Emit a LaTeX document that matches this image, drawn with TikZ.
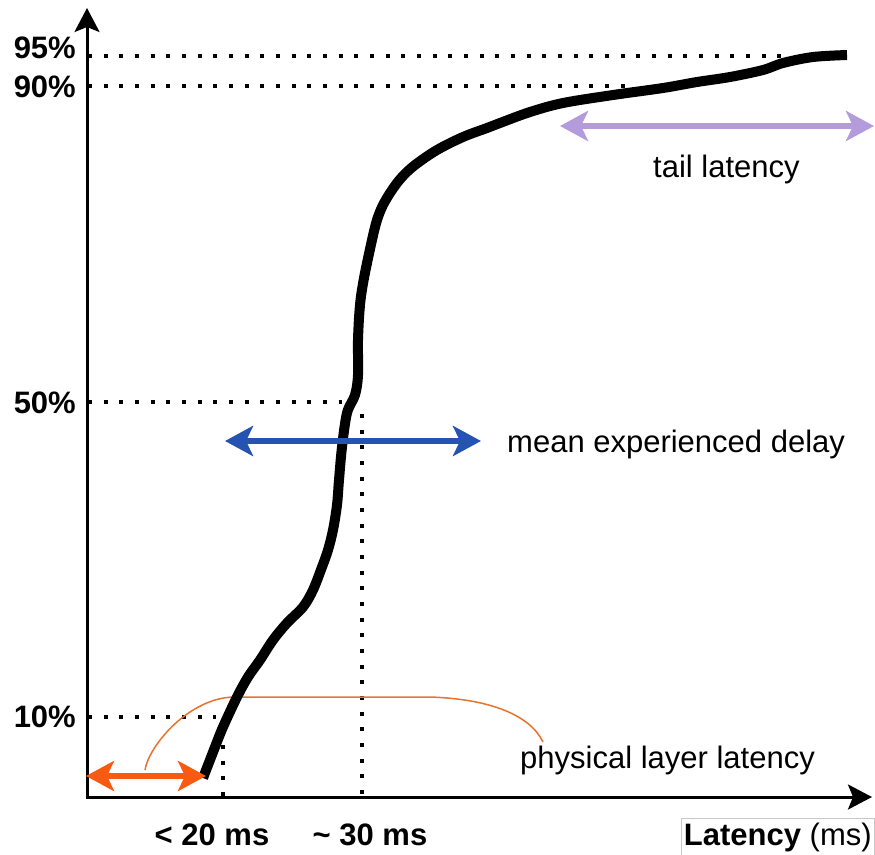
\documentclass[tikz,border=0pt]{standalone}
\usepackage{fontspec}
\setmainfont{Liberation Sans}
\usetikzlibrary{arrows.meta}
\definecolor{orangeA}{HTML}{F85A12}
\definecolor{orangeL}{HTML}{E8722E}
\definecolor{blueA}{HTML}{2453B2}
\definecolor{purpleA}{HTML}{B49BDC}
\tikzset{
  axisline/.style={line width=3pt, {Stealth[length=24pt,width=25pt,inset=5pt]}-{Stealth[length=24pt,width=25pt,inset=5pt]}, line join=miter},
  dotline/.style={line width=4pt, dash pattern=on 4pt off 11.67pt},
  dblarrow/.style={line width=5.5pt, {Stealth[length=28pt,width=30pt,inset=7pt]}-{Stealth[length=28pt,width=30pt,inset=7pt]}},
  pct/.style={anchor=base east, inner sep=0pt, font=\fontsize{31}{36}\selectfont\bfseries},
  lbl/.style={anchor=base west, inner sep=0pt, font=\fontsize{31}{36}\selectfont},
  blbl/.style={anchor=base, inner sep=0pt, font=\fontsize{31}{36}\selectfont\bfseries},
}
\begin{document}
\begin{tikzpicture}[x=1pt,y=-1pt]
\useasboundingbox (0,0) rectangle (875,854);
% axes
\coordinate (O) at (87,797);
\coordinate (ytip) at (87,8);
\coordinate (xtip) at (872,797);
% dotted guides
\coordinate (d95a) at (88,56);  \coordinate (d95b) at (783,56);
\coordinate (d90a) at (88,86);  \coordinate (d90b) at (625,86);
\coordinate (d50a) at (88,402); \coordinate (d50b) at (342,402);
\coordinate (d10a) at (88,717); \coordinate (d10b) at (216,717);
\coordinate (v20a) at (223,745); \coordinate (v20b) at (223,797);
\coordinate (v30a) at (362,414); \coordinate (v30b) at (362,797);
\draw[dotline] (d95a) -- (d95b);
\draw[dotline] (d90a) -- (d90b);
\draw[dotline] (d50a) -- (d50b);
\draw[dotline] (d10a) -- (d10b);
\draw[dotline] (v20a) -- (v20b);
\draw[dotline] (v30a) -- (v30b);
% orange annotation line
\coordinate (pa) at (145,770);
\coordinate (pb) at (235,697);
\coordinate (pc) at (430,697);
\coordinate (pd) at (543,742);
\draw[orangeL, line width=1.5pt] (pa) .. controls (149,745) and (190,697) .. (pb) -- (pc) .. controls (490,699) and (530,715) .. (pd);
% CDF curve
\draw[line width=10pt, line join=round] plot[smooth, tension=0.55] coordinates {
(203,778) (215,747) (223,727) (237,697) (248,677) (260,660) (273,640) (287,623)
(303,607) (313,590) (322,567) (328,550) (333,530) (337,505) (339,480) (342,447)
(347,413) (355,395) (358,375) (358,340) (360,305) (364,278) (372,240) (377,220)
(383,205) (392,190) (402,177) (415,165) (437,150) (463,137) (487,128) (500,123)
(530,112) (563,103) (613,95) (663,88) (697,82) (730,77) (763,70) (783,63)
(813,57) (847,55)};
% axes on top
\draw[axisline] (ytip) -- (O) -- (xtip);
% double arrows
\coordinate (oa) at (86,776);  \coordinate (ob) at (206,776);
\coordinate (ba) at (225,441); \coordinate (bb) at (481,441);
\coordinate (ta) at (560,126); \coordinate (tb) at (874,126);
\draw[dblarrow, orangeA] (oa) -- (ob);
\draw[dblarrow, blueA] (ba) -- (bb);
\draw[dblarrow, purpleA] (ta) -- (tb);
% labels
\node[pct] (p95) at (76,58) {95\%};
\node[pct] (p90) at (76,97) {90\%};
\node[pct] (p50) at (76,413) {50\%};
\node[pct] (p10) at (76,727) {10\%};
\node[lbl] (tail) at (653,177) {tail latency};
\node[lbl] (mean) at (507,452) {mean experienced delay};
\node[lbl] (phys) at (520,768) {physical layer latency};
\node[blbl] (l20) at (212,845) {< 20 ms};
\node[blbl] (l30) at (370,845) {\char`~{} 30 ms};
\node[draw=black!22, line width=0.8pt, anchor=base west, inner xsep=2.5pt, inner ysep=4pt, font=\fontsize{31}{36}\selectfont] (xlab) at (681,845) {\textbf{Latency} (ms)};
\end{tikzpicture}
\end{document}
